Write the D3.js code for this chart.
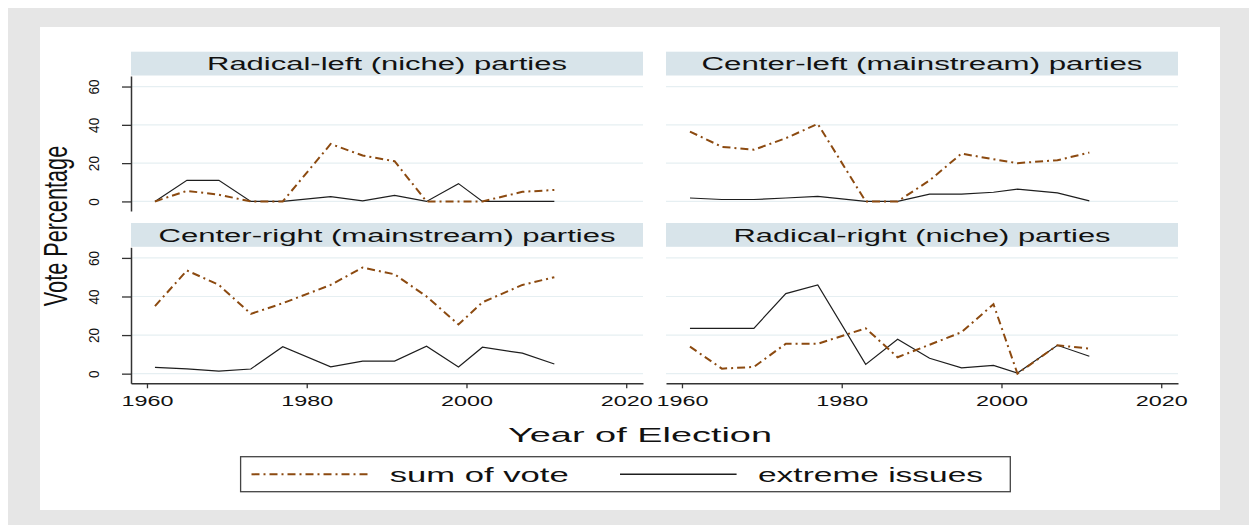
<!DOCTYPE html>
<html>
<head>
<meta charset="utf-8">
<script src="https://cdn.jsdelivr.net/npm/d3@7"></script>
<style>
  html, body { margin: 0; padding: 0; background: #fff; }
  svg text { font-family: "Liberation Sans", Arial, sans-serif; fill: #111; }
</style>
</head>
<body>
<div id="chart"></div>
<script>
// election years shared by every panel
const years = [1961, 1965, 1969, 1973, 1977, 1983, 1987, 1991, 1995, 1999, 2002, 2007, 2011];

const panelTitles = [
    "Radical-left (niche) parties",
    "Center-left (mainstream) parties",
    "Center-right (mainstream) parties",
    "Radical-right (niche) parties"
];

// sum of vote (dash-dot) and extreme issues (solid), per panel
const radLeftSum  = [0, 5.5, 3.5, 0, 0, 30, 24, 21, 0, 0, 0, 5, 6];
const radLeftExt  = [0, 11, 11, 0, 0, 2.5, 0.3, 3.2, 0, 9.3, 0, 0, 0];
const cenLeftSum  = [36.5, 28.5, 27, 33, 40.5, 0, 0, 11, 25, 22, 20, 21.5, 25.5];
const cenLeftExt  = [1.8, 1, 1, 1.8, 2.6, 0, 0, 3.8, 3.8, 4.8, 6.4, 4.5, 0.3];
const cenRightSum = [35, 53.5, 46, 31, 36.5, 46, 55, 51.5, 40, 25.5, 37, 46, 50];
const cenRightExt = [3.3, 2.5, 1.3, 2.4, 14, 3.5, 6.5, 6.5, 14.2, 3.5, 13.7, 10.6, 5];
const radRightSum = [14, 2.6, 3.5, 15.5, 15.5, 23.5, 8.5, 15, 21.5, 36, 0, 14.7, 13];
const radRightExt = [23.5, 23.5, 23.5, 41.5, 46, 4.8, 17.8, 8, 3, 4.3, 0.3, 14.7, 9];

const xTicks = [1960, 1980, 2000, 2020];
const yTicks = [0, 20, 40, 60];
const legendLabels = ["sum of vote", "extreme issues"];

const sumColor = "#8c4a10";
const extColor = "#1e1e1e";
const dashDot = "8,4,2,4";

const width = 1249, height = 525;
const svg = d3.select("#chart").append("svg")
    .attr("width", width)
    .attr("height", height);

// backgrounds
svg.append("rect").attr("x", 8).attr("y", 8).attr("width", width - 8).attr("height", height - 8).attr("fill", "#e6e6e6");
svg.append("rect").attr("x", 40).attr("y", 27).attr("width", 1180).attr("height", 483).attr("fill", "#fff");

const cols = [[131, 643], [666, 1178]];
const rows = [{strip: 51.7, top: 76, bottom: 211}, {strip: 223, top: 247.3, bottom: 383.3}];
const titleWidths = [360, 441, 457, 377];

const panels = [
    {sum: radLeftSum, ext: radLeftExt},
    {sum: cenLeftSum, ext: cenLeftExt},
    {sum: cenRightSum, ext: cenRightExt},
    {sum: radRightSum, ext: radRightExt}
];

panels.forEach((p, i) => {
    const c = cols[i % 2], r = rows[Math.floor(i / 2)];
    const x = d3.scaleLinear().domain([1958, 2022.1]).range(c);
    const y = d3.scaleLinear().domain([-5, 65.5]).range([r.bottom, r.top]);
    const g = svg.append("g");

    // strip
    g.append("rect")
        .attr("x", c[0]).attr("y", r.strip)
        .attr("width", c[1] - c[0]).attr("height", r.top - r.strip - 0.5)
        .attr("fill", "#d8e4ea");
    g.append("text")
        .attr("x", (c[0] + c[1]) / 2)
        .attr("y", (r.strip + r.top) / 2 + 6.6)
        .attr("text-anchor", "middle")
        .attr("font-size", 18.3)
        .attr("textLength", titleWidths[i])
        .attr("lengthAdjust", "spacingAndGlyphs")
        .text(panelTitles[i]);

    // grid
    g.selectAll(".grid").data(yTicks).enter().append("line")
        .attr("x1", c[0]).attr("x2", c[1])
        .attr("y1", d => y(d)).attr("y2", d => y(d))
        .attr("stroke", "#e6eff2").attr("stroke-width", 1.2);

    if (i % 2 === 0) {
        const ay = g.append("g")
            .attr("transform", `translate(${c[0]},0)`)
            .call(d3.axisLeft(y).tickValues(yTicks).tickSize(9).tickSizeOuter(0));
        ay.select(".domain").attr("stroke", "#333").attr("stroke-width", 1.5);
        ay.selectAll(".tick line").attr("stroke", "#333").attr("stroke-width", 1.3);
        ay.selectAll(".tick text")
            .attr("x", null).attr("dy", null)
            .attr("fill", "#111")
            .attr("font-size", 13.6)
            .attr("font-family", "Liberation Sans, Arial, sans-serif")
            .attr("text-anchor", "middle")
            .attr("transform", "translate(-32,0) scale(1.1,1) rotate(-90)");
    }
    if (i >= 2) {
        const ax = g.append("g")
            .attr("transform", `translate(0,${r.bottom})`)
            .call(d3.axisBottom(x).tickValues(xTicks).tickFormat(d3.format("d")).tickSize(5).tickSizeOuter(0));
        ax.select(".domain").attr("stroke", "#333").attr("stroke-width", 1.4);
        ax.selectAll(".tick line").attr("stroke", "#333").attr("stroke-width", 1.3);
        ax.selectAll(".tick text")
            .attr("y", 23).attr("dy", null)
            .attr("fill", "#111")
            .attr("font-size", 15.5)
            .attr("font-family", "Liberation Sans, Arial, sans-serif")
            .attr("textLength", 52)
            .attr("lengthAdjust", "spacingAndGlyphs");
    }

    const line = vals => d3.line()
        .x((d, k) => x(years[k]))
        .y(d => y(d))(vals);

    g.append("path")
        .attr("d", line(p.ext))
        .attr("fill", "none")
        .attr("stroke", extColor)
        .attr("stroke-width", 1.2);
    g.append("path")
        .attr("d", line(p.sum))
        .attr("fill", "none")
        .attr("stroke", sumColor)
        .attr("stroke-width", 2)
        .attr("stroke-dasharray", dashDot);
});

// axis titles
svg.append("text")
    .attr("transform", "translate(66.5,226) scale(1.52,1) rotate(-90)")
    .attr("text-anchor", "middle")
    .attr("font-size", 21.7)
    .text("Vote Percentage");

svg.append("text")
    .attr("x", 640).attr("y", 441.7)
    .attr("text-anchor", "middle")
    .attr("font-size", 20.6)
    .attr("textLength", 264)
    .attr("lengthAdjust", "spacingAndGlyphs")
    .text("Year of Election");

// legend
const lg = svg.append("g");
lg.append("rect")
    .attr("x", 240.6).attr("y", 456.7)
    .attr("width", 769.7).attr("height", 35)
    .attr("fill", "#fff").attr("stroke", "#444").attr("stroke-width", 1.3);
lg.append("line")
    .attr("x1", 251.5).attr("x2", 370.7).attr("y1", 474.3).attr("y2", 474.3)
    .attr("stroke", sumColor).attr("stroke-width", 2).attr("stroke-dasharray", dashDot);
lg.append("line")
    .attr("x1", 620).attr("x2", 736.6).attr("y1", 474.3).attr("y2", 474.3)
    .attr("stroke", extColor).attr("stroke-width", 1.4);
lg.selectAll(".lt").data(legendLabels).enter().append("text")
    .attr("x", (d, i) => i === 0 ? 389.7 : 758)
    .attr("y", 482)
    .attr("font-size", 21)
    .attr("textLength", (d, i) => i === 0 ? 179 : 225)
    .attr("lengthAdjust", "spacingAndGlyphs")
    .text(d => d);
</script>
</body>
</html>
